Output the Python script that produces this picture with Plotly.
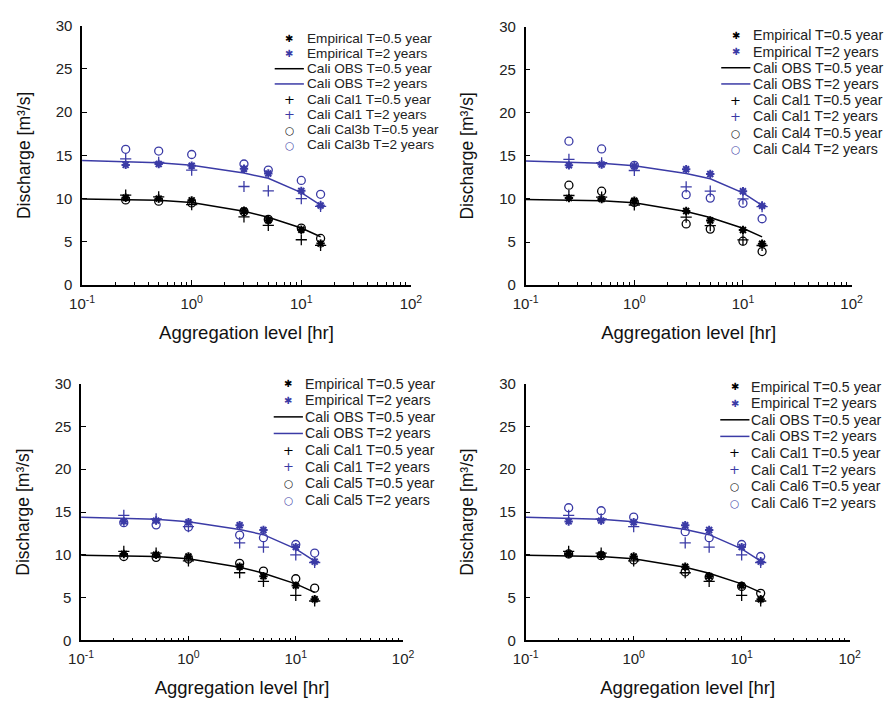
import plotly.graph_objects as go

# Aggregation levels [hr]
agg = [0.25, 0.5, 1, 3, 5, 10, 15]
agg_line = [0.1, 0.25, 0.5, 1, 3, 5, 10, 15]

# Common series
emp_05 = [10.1, 10.0, 9.8, 8.6, 7.5, 6.4, 4.8]
emp_2 = [13.9, 14.0, 13.8, 13.45, 12.9, 10.9, 9.2]
obs_05 = [9.95, 9.9, 9.8, 9.55, 8.55, 7.85, 6.6, 5.6]
obs_2 = [14.4, 14.3, 14.15, 13.85, 12.95, 12.35, 10.7, 9.25]
cal1_05 = [10.4, 10.2, 9.3, 7.9, 6.9, 5.25, 4.6]
cal1_2 = [14.6, 14.2, 13.3, 11.4, 10.9, 10.0, 9.1]

# Panel-specific calibrations
panel_names = ["Cal3b", "Cal4", "Cal5", "Cal6"]
cal_05 = {
    "Cal3b": [9.85, 9.7, 9.5, 8.5, 7.6, 6.6, 5.4],
    "Cal4": [11.6, 10.9, 9.6, 7.1, 6.5, 5.1, 3.9],
    "Cal5": [9.8, 9.7, 9.5, 9.0, 8.1, 7.2, 6.1],
    "Cal6": [10.1, 9.9, 9.4, 8.0, 7.4, 6.3, 5.5],
}
cal_2 = {
    "Cal3b": [15.7, 15.5, 15.1, 14.0, 13.3, 12.1, 10.5],
    "Cal4": [16.7, 15.8, 13.9, 10.5, 10.1, 9.5, 7.7],
    "Cal5": [13.75, 13.5, 13.25, 12.3, 12.0, 11.2, 10.2],
    "Cal6": [15.5, 15.15, 14.4, 12.7, 12.0, 11.2, 9.8],
}

y_ticks = [0, 5, 10, 15, 20, 25, 30]
x_ticks = [0.1, 1, 10, 100]
x_ticktext = ["10<sup>-1</sup>", "10<sup>0</sup>", "10<sup>1</sup>", "10<sup>2</sup>"]
x_minor = [m * 10 ** e for e in (-1, 0, 1) for m in range(2, 10)]

BLACK = "#000000"
BLUE = "#3b3ba6"
FONT = "Arial, Liberation Sans, sans-serif"
W, H = 884, 702

# pixel boxes of the four plotting areas: (x0, x1, ytop, ybottom)
boxes = [(71, 409, 17, 283), (527, 862, 18, 283), (70, 401, 384, 647), (527, 860, 384, 647)]
# legend layout per panel: (symbol centre x, text left x, first row y, row step, font size)
legend_layout = [(284, 301, 30, 15.6, 13.6), (743, 760, 27, 16.6, 14.2),
                 (283, 299, 384, 17.0, 14.2), (742, 758, 387, 17.0, 14.2)]

fig = go.Figure()
annotations = []
shapes = []

for i, name in enumerate(panel_names):
    n = "" if i == 0 else str(i + 1)
    xa, ya = "x" + n, "y" + n
    common = dict(xaxis=xa, yaxis=ya, showlegend=False)
    fig.add_trace(go.Scatter(x=agg, y=emp_05, mode="markers", name="Empirical T=0.5 year",
                             marker=dict(symbol="asterisk-open", size=7, color=BLACK, line=dict(color=BLACK, width=2)), **common))
    fig.add_trace(go.Scatter(x=agg, y=emp_2, mode="markers", name="Empirical T=2 years",
                             marker=dict(symbol="asterisk-open", size=7, color=BLUE, line=dict(color=BLUE, width=2)), **common))
    fig.add_trace(go.Scatter(x=agg_line, y=obs_05, mode="lines", name="Cali OBS T=0.5 year",
                             line=dict(color=BLACK, width=1.5), **common))
    fig.add_trace(go.Scatter(x=agg_line, y=obs_2, mode="lines", name="Cali OBS T=2 years",
                             line=dict(color=BLUE, width=1.5), **common))
    fig.add_trace(go.Scatter(x=agg, y=cal1_05, mode="markers", name="Cali Cal1 T=0.5 year",
                             marker=dict(symbol="cross-thin-open", size=8, color=BLACK, line=dict(color=BLACK, width=1.3)), **common))
    fig.add_trace(go.Scatter(x=agg, y=cal1_2, mode="markers", name="Cali Cal1 T=2 years",
                             marker=dict(symbol="cross-thin-open", size=8, color=BLUE, line=dict(color=BLUE, width=1.3)), **common))
    fig.add_trace(go.Scatter(x=agg, y=cal_05[name], mode="markers", name=f"Cali {name} T=0.5 year",
                             marker=dict(symbol="circle-open", size=8, color=BLACK, line=dict(color=BLACK, width=1.3)), **common))
    fig.add_trace(go.Scatter(x=agg, y=cal_2[name], mode="markers", name=f"Cali {name} T=2 years",
                             marker=dict(symbol="circle-open", size=8, color=BLUE, line=dict(color=BLUE, width=1.3)), **common))

    x0, x1, yt, yb = boxes[i]
    fig.update_layout({
        "xaxis" + n: dict(
            domain=[x0 / W, x1 / W], anchor=ya, type="log", range=[-1, 2],
            tickvals=x_ticks, ticktext=x_ticktext, ticks="inside", ticklen=5, tickwidth=1.3,
            tickcolor=BLACK, showline=True, linecolor=BLACK, linewidth=1.5, showgrid=False,
            zeroline=False, tickfont=dict(size=15, color="#222"), ticklabelstandoff=4,
            minor=dict(tickvals=x_minor, ticks="inside", ticklen=3, tickwidth=1.2, tickcolor=BLACK, showgrid=False),
            title=dict(text="Aggregation level [hr]", font=dict(size=18.5, color="#111"), standoff=15),
        ),
        "yaxis" + n: dict(
            domain=[1 - yb / H, 1 - yt / H], anchor=xa, range=[0, 30],
            tickvals=y_ticks, ticks="inside", ticklen=5, tickwidth=1.3, tickcolor=BLACK,
            showline=True, linecolor=BLACK, linewidth=1.5, showgrid=False, zeroline=False,
            tickfont=dict(size=15, color="#222"), ticklabelstandoff=5,
            title=dict(text="Discharge [m³/s]", font=dict(size=17.5, color="#111"), standoff=21),
        ),
    })

    # legend drawn as text rows (compact spacing like the original)
    sx, tx, ry, step, fsize = legend_layout[i]
    entries = [
        ("Empirical T=0.5 year", "✱", BLACK, 10),
        ("Empirical T=2 years", "✱", BLUE, 10),
        ("Cali OBS T=0.5 year", None, BLACK, 0),
        ("Cali OBS T=2 years", None, BLUE, 0),
        ("Cali Cal1 T=0.5 year", "+", BLACK, 13),
        ("Cali Cal1 T=2 years", "+", BLUE, 13),
        (f"Cali {name} T=0.5 year", "○", BLACK, 10.5),
        (f"Cali {name} T=2 years", "○", BLUE, 10.5),
    ]
    for k, (label, glyph, col, gsize) in enumerate(entries):
        yy = 1 - (ry + k * step) / H
        annotations.append(dict(
            x=tx / W, y=yy, xref="paper", yref="paper", xanchor="left", yanchor="middle",
            text=label, showarrow=False, borderpad=0,
            font=dict(size=fsize, color="#222", family=FONT),
        ))
        if glyph is None:
            shapes.append(dict(type="line", xref="paper", yref="paper",
                               x0=(sx - 15) / W, x1=(sx + 15) / W, y0=yy, y1=yy,
                               line=dict(color=col, width=1.5)))
        else:
            annotations.append(dict(
                x=sx / W, y=yy, xref="paper", yref="paper", xanchor="center", yanchor="middle",
                text=glyph, showarrow=False, borderpad=0,
                font=dict(size=gsize, color=col, family="DejaVu Sans"),
            ))

fig.update_layout(
    width=W, height=H, margin=dict(l=0, r=0, t=0, b=0),
    paper_bgcolor="white", plot_bgcolor="white",
    font=dict(family=FONT, color="#222"),
    showlegend=False,
    annotations=annotations,
    shapes=shapes,
)

fig.write_html("out.html")
